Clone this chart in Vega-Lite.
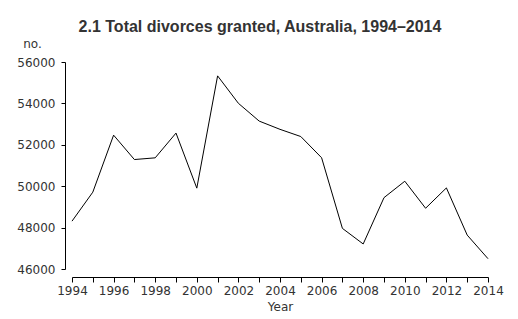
{
  "$schema": "https://vega.github.io/schema/vega-lite/v6.json",
  "width": 416,
  "height": 207,
  "autosize": {"type": "none"},
  "padding": {"left": 72, "top": 62, "right": 30, "bottom": 50},
  "background": "white",
  "title": {
    "text": "2.1 Total divorces granted, Australia, 1994–2014",
    "font": "Liberation Sans",
    "fontSize": 16,
    "fontWeight": "bold",
    "color": "#333333",
    "anchor": "middle",
    "frame": "group",
    "dx": -20,
    "offset": 2
  },
  "config": {
    "view": {"stroke": null},
    "axis": {
      "labelFont": "DejaVu Sans",
      "labelFontSize": 12,
      "labelColor": "#333333",
      "titleFont": "DejaVu Sans",
      "titleFontSize": 12,
      "titleFontWeight": "normal",
      "titleColor": "#333333",
      "domainColor": "#000000",
      "tickColor": "#000000",
      "grid": false,
      "tickSize": 4
    }
  },
  "data": {
    "values": [
      {"year": 1994, "divorces": 48312},
      {"year": 1995, "divorces": 49712},
      {"year": 1996, "divorces": 52466},
      {"year": 1997, "divorces": 51288},
      {"year": 1998, "divorces": 51370},
      {"year": 1999, "divorces": 52566},
      {"year": 2000, "divorces": 49906},
      {"year": 2001, "divorces": 55330},
      {"year": 2002, "divorces": 54004},
      {"year": 2003, "divorces": 53145},
      {"year": 2004, "divorces": 52747},
      {"year": 2005, "divorces": 52399},
      {"year": 2006, "divorces": 51375},
      {"year": 2007, "divorces": 47963},
      {"year": 2008, "divorces": 47209},
      {"year": 2009, "divorces": 49448},
      {"year": 2010, "divorces": 50240},
      {"year": 2011, "divorces": 48935},
      {"year": 2012, "divorces": 49917},
      {"year": 2013, "divorces": 47638},
      {"year": 2014, "divorces": 46498}
    ]
  },
  "mark": {"type": "line", "color": "#000000", "strokeWidth": 1},
  "encoding": {
    "x": {
      "field": "year",
      "type": "quantitative",
      "scale": {"domain": [1994, 2014], "nice": false, "zero": false},
      "axis": {
        "title": "Year",
        "offset": 8,
        "values": [1994, 1995, 1996, 1997, 1998, 1999, 2000, 2001, 2002, 2003, 2004, 2005, 2006, 2007, 2008, 2009, 2010, 2011, 2012, 2013, 2014],
        "format": "d",
        "labelExpr": "datum.value % 2 == 0 ? datum.label : ''",
        "tickSize": 5,
        "labelPadding": 3,
        "titlePadding": 5,
        "labelOverlap": false,
        "labelFlush": false
      }
    },
    "y": {
      "field": "divorces",
      "type": "quantitative",
      "scale": {"domain": [46000, 56000], "nice": false, "zero": false},
      "axis": {
        "title": "no.",
        "offset": 7,
        "values": [46000, 48000, 50000, 52000, 54000, 56000],
        "format": "d",
        "labelPadding": 6,
        "labelFlush": false,
        "titleAngle": 0,
        "titleAlign": "center",
        "titleBaseline": "alphabetic",
        "titleX": -33,
        "titleY": -15
      }
    }
  }
}
